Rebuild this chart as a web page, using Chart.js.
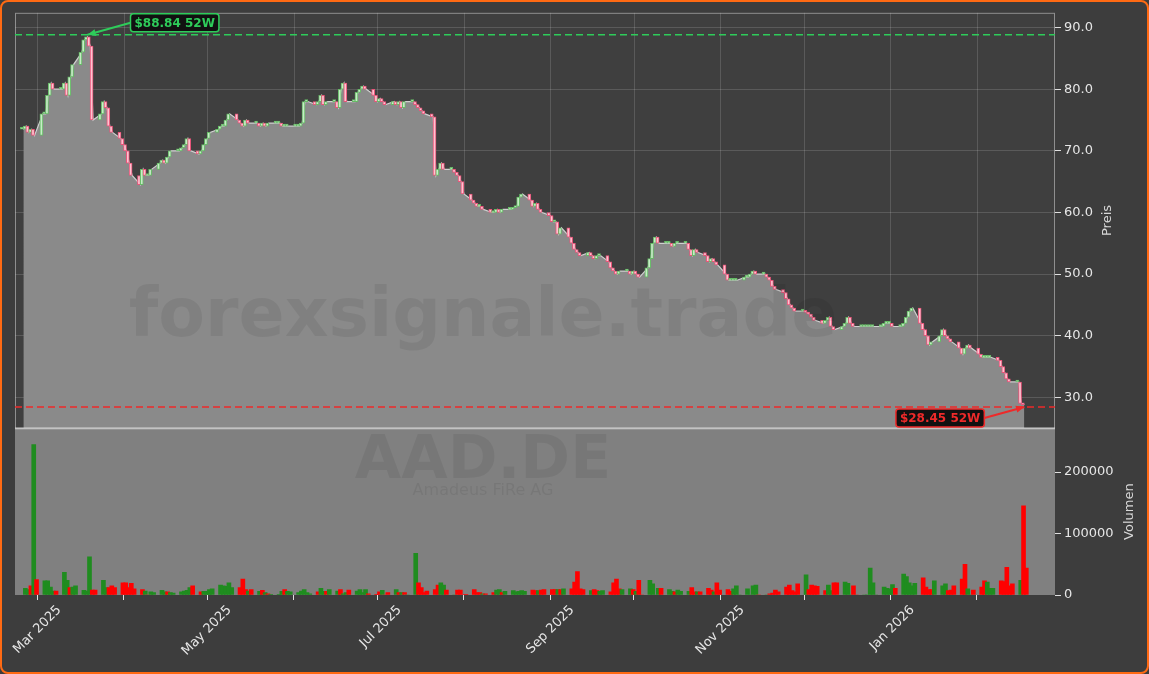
<!DOCTYPE html>
<html>
<head>
<meta charset="utf-8">
<script src="https://cdn.jsdelivr.net/npm/chart.js@4/dist/chart.umd.min.js"></script>
<style>
  html, body { margin: 0; padding: 0; background: #3d3d3d; }
  #wrap { width: 1149px; height: 674px; box-sizing: border-box; border: 2px solid #ff6a13; border-radius: 8px; background: #3d3d3d; overflow: hidden; }
  canvas { display: block; }
</style>
</head>
<body>
<div id="wrap"><canvas id="chart" width="1145" height="670"></canvas></div>
<script>
// AAD.DE – Amadeus FiRe AG, daily closes (trading days from 24 Feb 2025)
const firstDay = '2025-02-24';
const axisStart = '2025-02-21';
const closes = [
  73.5, 74, 73, 73.5, 72.5,   76, 76, 79, 81, 80,   80, 81, 79, 82, 84,
  86, 88, 88.5, 87, 75,       76, 78, 77, 74, 73,   72, 71, 70, 68, 66,
  64.5, 67, 66, 66, 67,       68, 68.5, 68, 69, 70, 70, 70.5, 71, 72, 70,
  69.5, 70, 71, 72, 73,       73.5, 74, 74, 75, 76,  75, 74.5, 74, 75, 74.5,
  74.5, 74, 74.5, 74, 74.5,   74.5, 74.5, 74, 74, 74, 74, 74, 74.5, 78, 78,
  77.5, 78, 79, 77.5, 78,     78, 77, 80, 81, 78,    78, 79.5, 80, 80.5, 80,
  79, 78, 78.5, 78, 77.5,     78, 77.5, 78, 77, 78,  78, 77.5, 77, 76.5, 76,
  75.5, 66, 67, 68, 67,       67, 66.5, 66, 65, 63,  62, 61.5, 61, 61, 60.5,
  60, 60, 60.5, 60, 60.5,     60.5, 60.8, 61, 62.5, 63, 62, 61, 61.5, 60.5, 60,
  59.5, 58.5, 58.5, 56.5, 57.5, 56, 55, 54, 53.5, 53, 53.5, 53, 52.5, 53, 53,
  52, 51, 50.5, 50, 50.5,     50.5, 50, 50.5, 50, 49.5, 51, 52.5, 55, 56, 55,
  55, 55, 54.5, 55, 55,       55, 54, 53, 54, 53.5,  53, 52, 52.5, 52, 51.5,
  50, 49, 49, 49, 49,         49.5, 49.5, 50, 50.5, 50, 50, 49.5, 49, 48, 47.5,
  47, 46, 45, 44.5, 44,       44, 43.8, 43.5, 43, 42.5, 42, 42.5, 43, 41.5, 41,
  41.5, 42, 43, 42, 41.5,     41.5, 41.5, 41.5, 41.5, 41.5, 41.5, 42, 42, 42, 41.5,
  41.5, 42, 43, 44, 44.5,     42, 41, 40, 38.5, 39,  40, 41, 40, 39.5, 39,
  38, 37, 38, 38.5, 38,       37, 36.5, 36.5, 36.5, 36.5, 36, 35, 34, 33, 32.5,
  32.5, 29, 28.8
];
const volumes = [
  11000, 9000, 15000, 245000, 25000,  23000, 23000, 13000, 6500, 6500,  37000, 24000, 12000, 13000, 15000,
  7500, 6500, 62000, 8000, 8000,      24000, 12000, 12000, 15000, 12000, 20000, 20000, 12000, 19000, 10000,
  9000, 6500, 0, 5000, 4000,          7500, 5000, 5000, 4000, 3000,      5000, 6500, 7500, 12000, 15000,
  5000, 6000, 6000, 9000, 10000,      16000, 15000, 14000, 20000, 12000, 12000, 26000, 9000, 6500, 9000,
  6000, 7500, 4000, 2000, 1000,       1000, 6000, 9000, 6000, 5000,      4000, 6500, 9000, 4000, 2000,
  5000, 11000, 6000, 6000, 9000,      6500, 9000, 2000, 4000, 8000,      6500, 9000, 4000, 9000, 2000,
  1000, 5000, 7500, 0, 4000,          9000, 4000, 4000, 4000, 0,         68000, 20000, 12000, 4000, 6500,
  9000, 16000, 20000, 16000, 8000,    0, 8000, 8000, 0, 1000,            9000, 4000, 4000, 2000, 2000,
  4000, 8000, 9000, 4000, 6000,       7000, 5000, 6000, 7000, 6000,      8000, 7000, 7000, 8000, 9000,
  9000, 9000, 9000, 9000, 10000,     10000, 21000, 38000, 10000, 9000,  7000, 9000, 7000, 6000, 7000,
  5000, 20000, 26000, 10000, 9000,    10000, 9000, 6000, 24000, 0,       24000, 18000, 0, 11000, 11000,
  9000, 6000, 5000, 8000, 6000,       6000, 12000, 5000, 5000, 5000,     11000, 8000, 5000, 20000, 8000,
  9000, 6000, 10000, 15000, 0,        10000, 0, 15000, 16000, 0,         0, 2000, 3000, 8000, 5000,
  13000, 16000, 7000, 5000, 18000,    33000, 9000, 16000, 15000, 14000,  7000, 16000, 7000, 20000, 20000,
  21000, 19000, 0, 15000, 0,          0, 0, 44000, 20000, 0,             13000, 11000, 10000, 17000, 11000,
  34000, 30000, 20000, 15000, 19000,  28000, 13000, 9000, 9000, 23000,   15000, 18000, 7000, 8000, 15000,
  26000, 50000, 10000, 0, 8000,       13000, 23000, 21000, 11000, 11000, 23000, 22000, 45000, 15000, 18000,
  24000, 145000, 44000
];
const high52 = 88.84;
const low52 = 28.45;
const priceTicks = [30, 40, 50, 60, 70, 80, 90];
const volumeTicks = [0, 100000, 200000];
const monthNames = ['Jan','Feb','Mar','Apr','May','Jun','Jul','Aug','Sep','Oct','Nov','Dec'];

// trading-day positions (days since axis start)
const DAY = 86400000;
const t0 = Date.parse(axisStart + 'T00:00:00Z');
const days = [];
for (let t = Date.parse(firstDay + 'T00:00:00Z'); days.length < closes.length; t += DAY) {
  const wd = new Date(t).getUTCDay();
  if (wd !== 0 && wd !== 6) days.push((t - t0) / DAY);
}
const opens = closes.map((c, i) => i === 0 ? c : closes[i - 1]);
const monthTicks = [];
for (let m = 2; m <= 13; m++) {
  const d = new Date(Date.UTC(2025, m, 1));
  monthTicks.push({ value: (d - t0) / DAY, label: monthNames[d.getUTCMonth()] + ' ' + d.getUTCFullYear(), show: m % 2 === 0 });
}

const up = i => closes[i] >= opens[i];
const FONT = 'DejaVu Sans, sans-serif';

const panelPlugin = {
  id: 'panels',
  beforeDraw(chart) {
    const { ctx, chartArea: a, scales: { y, yv } } = chart;
    ctx.save();
    ctx.fillStyle = '#3f3f3f';
    ctx.fillRect(a.left, y.top, a.right - a.left, y.bottom - y.top);
    ctx.fillStyle = '#808080';
    ctx.fillRect(a.left, yv.top, a.right - a.left, yv.bottom - yv.top);
    // monthly vertical grid in price panel
    ctx.strokeStyle = 'rgba(255,255,255,0.14)';
    ctx.lineWidth = 1;
    monthTicks.forEach(m => {
      const px = Math.round(chart.scales.x.getPixelForValue(m.value)) + 0.5;
      ctx.beginPath(); ctx.moveTo(px, y.top); ctx.lineTo(px, y.bottom); ctx.stroke();
    });
    ctx.restore();
  },
  afterDatasetsDraw(chart) {
    const { ctx, chartArea: a, scales: { x, y, yv } } = chart;
    ctx.save();
    // watermarks
    ctx.fillStyle = 'rgba(0,0,0,0.07)';
    ctx.textAlign = 'center';
    ctx.textBaseline = 'middle';
    const cx = (a.left + a.right) / 2 - 52;
    ctx.font = 'bold 68px ' + FONT;
    ctx.fillText('forexsignale.trade', cx, y.getPixelForValue(42.8));
    ctx.font = 'bold 60px ' + FONT;
    ctx.fillText('AAD.DE', cx, yv.top + 34);
    ctx.font = '16px ' + FONT;
    ctx.fillText('Amadeus FiRe AG', cx, yv.top + 63);

    // panel frame
    ctx.strokeStyle = 'rgba(210,210,210,0.55)';
    ctx.lineWidth = 1;
    ctx.strokeRect(a.left + 0.5, y.top + 0.5, a.right - a.left - 1, y.bottom - y.top);
    ctx.strokeStyle = 'rgba(220,220,220,0.6)';
    ctx.lineWidth = 2;
    ctx.beginPath(); ctx.moveTo(a.left, yv.top); ctx.lineTo(a.right, yv.top); ctx.stroke();

    // 52W lines
    const hi = closes.indexOf(Math.max(...closes));
    const lo = closes.length - 1;
    const drawLevel = (val, col, idx, boxDx, boxDy, text, alignRight) => {
      const py = y.getPixelForValue(val);
      ctx.setLineDash([7, 4]);
      ctx.strokeStyle = col;
      ctx.lineWidth = 1.5;
      ctx.beginPath(); ctx.moveTo(a.left, py); ctx.lineTo(a.right, py); ctx.stroke();
      ctx.setLineDash([]);
      const px = x.getPixelForValue(days[idx]);
      ctx.font = 'bold 12px ' + FONT;
      const w = ctx.measureText(text).width + 8, h = 18;
      const bx = alignRight ? px + boxDx - w : px + boxDx;
      const by = py + boxDy;
      // arrow
      const sx = alignRight ? bx + w : bx;
      const sy = by + h / 2;
      ctx.strokeStyle = col; ctx.fillStyle = col; ctx.lineWidth = 2;
      ctx.beginPath(); ctx.moveTo(sx, sy); ctx.lineTo(px, py); ctx.stroke();
      const ang = Math.atan2(py - sy, px - sx);
      ctx.beginPath();
      ctx.moveTo(px, py);
      ctx.lineTo(px - 9 * Math.cos(ang - 0.4), py - 9 * Math.sin(ang - 0.4));
      ctx.lineTo(px - 9 * Math.cos(ang + 0.4), py - 9 * Math.sin(ang + 0.4));
      ctx.fill();
      ctx.fillStyle = '#111';
      ctx.beginPath(); ctx.roundRect(bx, by, w, h, 3); ctx.fill();
      ctx.strokeStyle = col; ctx.lineWidth = 1.5; ctx.stroke();
      ctx.fillStyle = col;
      ctx.textAlign = 'center'; ctx.textBaseline = 'middle';
      ctx.fillText(text, bx + w / 2, by + h / 2 + 1);
    };
    drawLevel(high52, '#2ecc5a', hi, 43, -21, '$' + high52.toFixed(2) + ' 52W', false);
    drawLevel(low52, '#ee2a2a', lo, -40, 2, '$' + low52.toFixed(2) + ' 52W', true);

    // axis titles
    ctx.fillStyle = '#d8d8d8';
    ctx.font = '13px ' + FONT;
    ctx.textAlign = 'center'; ctx.textBaseline = 'middle';
    const title = (t, tx, ty) => { ctx.save(); ctx.translate(tx, ty); ctx.rotate(-Math.PI / 2); ctx.fillText(t, 0, 0); ctx.restore(); };
    title('Preis', a.right + 53, (y.top + y.bottom) / 2);
    title('Volumen', a.right + 75, (yv.top + yv.bottom) / 2);

    // rotated month labels (end of text near the tick, like matplotlib)
    ctx.fillStyle = '#e6e6e6';
    ctx.font = '13px ' + FONT;
    ctx.textAlign = 'right'; ctx.textBaseline = 'middle';
    monthTicks.filter(m => m.show).forEach(m => {
      const px = x.getPixelForValue(m.value);
      ctx.save();
      ctx.translate(px + 22, a.bottom + 13);
      ctx.rotate(-Math.PI / 4);
      ctx.fillText(m.label, 0, 0);
      ctx.restore();
    });
    ctx.restore();
  }
};

new Chart(document.getElementById('chart'), {
  data: {
    datasets: [
      {
        type: 'line', yAxisID: 'y', order: 3,
        data: closes.map((c, i) => ({ x: days[i], y: c })),
        borderColor: '#d0d0d0', borderWidth: 1.2, pointRadius: 0,
        backgroundColor: '#8a8a8a', fill: 'start', tension: 0
      },
      {
        type: 'bar', yAxisID: 'y', order: 1,
        data: closes.map((c, i) => ({ x: days[i], y: [opens[i], c] })),
        backgroundColor: ctx => up(ctx.dataIndex) ? '#c6ecc6' : '#ffc2d0',
        borderColor: ctx => up(ctx.dataIndex) ? '#66bb66' : '#e8557a',
        borderWidth: 1, borderSkipped: false, barThickness: 3, minBarLength: 2
      },
      {
        type: 'bar', yAxisID: 'yv', order: 2,
        data: volumes.map((v, i) => ({ x: days[i], y: v })),
        backgroundColor: ctx => up(ctx.dataIndex) ? '#1f8c1f' : '#ff0000',
        borderWidth: 0, barThickness: 4
      }
    ]
  },
  options: {
    responsive: false,
    animation: false,
    layout: { padding: { left: 13, top: 10, right: 0, bottom: 0 } },
    plugins: { legend: { display: false }, tooltip: { enabled: false } },
    scales: {
      x: {
        type: 'linear', min: 0, max: 373, offset: false,
        afterBuildTicks: s => { s.ticks = monthTicks.map(m => ({ value: m.value })); },
        afterFit: s => { s.height = 77; s.paddingLeft = 0; s.paddingRight = 0; },
        grid: { display: true, offset: false, drawOnChartArea: false, drawTicks: true, tickLength: 5, color: '#e0e0e0' },
        border: { display: false },
        ticks: { display: true, color: 'rgba(0,0,0,0)', autoSkip: false, maxRotation: 0, callback: () => '' }
      },
      y: {
        position: 'right', stack: 'p', stackWeight: 2.49, min: 25, max: 92.4,
        afterBuildTicks: s => { s.ticks = priceTicks.map(v => ({ value: v })); },
        afterFit: s => { s.width = 92; },
        grid: { color: 'rgba(255,255,255,0.14)', tickLength: 6, tickColor: '#e0e0e0' },
        border: { display: false },
        ticks: { color: '#e6e6e6', font: { size: 13, family: FONT }, callback: v => v.toFixed(1) }
      },
      yv: {
        position: 'right', stack: 'p', stackWeight: 1, min: 0, max: 271500,
        afterBuildTicks: s => { s.ticks = volumeTicks.map(v => ({ value: v })); },
        afterFit: s => { s.width = 92; },
        grid: { drawOnChartArea: false, tickLength: 6, color: '#e0e0e0' },
        border: { display: false },
        ticks: { color: '#e6e6e6', font: { size: 13, family: FONT }, callback: v => String(v) }
      }
    }
  },
  plugins: [panelPlugin]
});
</script>
</body>
</html>
